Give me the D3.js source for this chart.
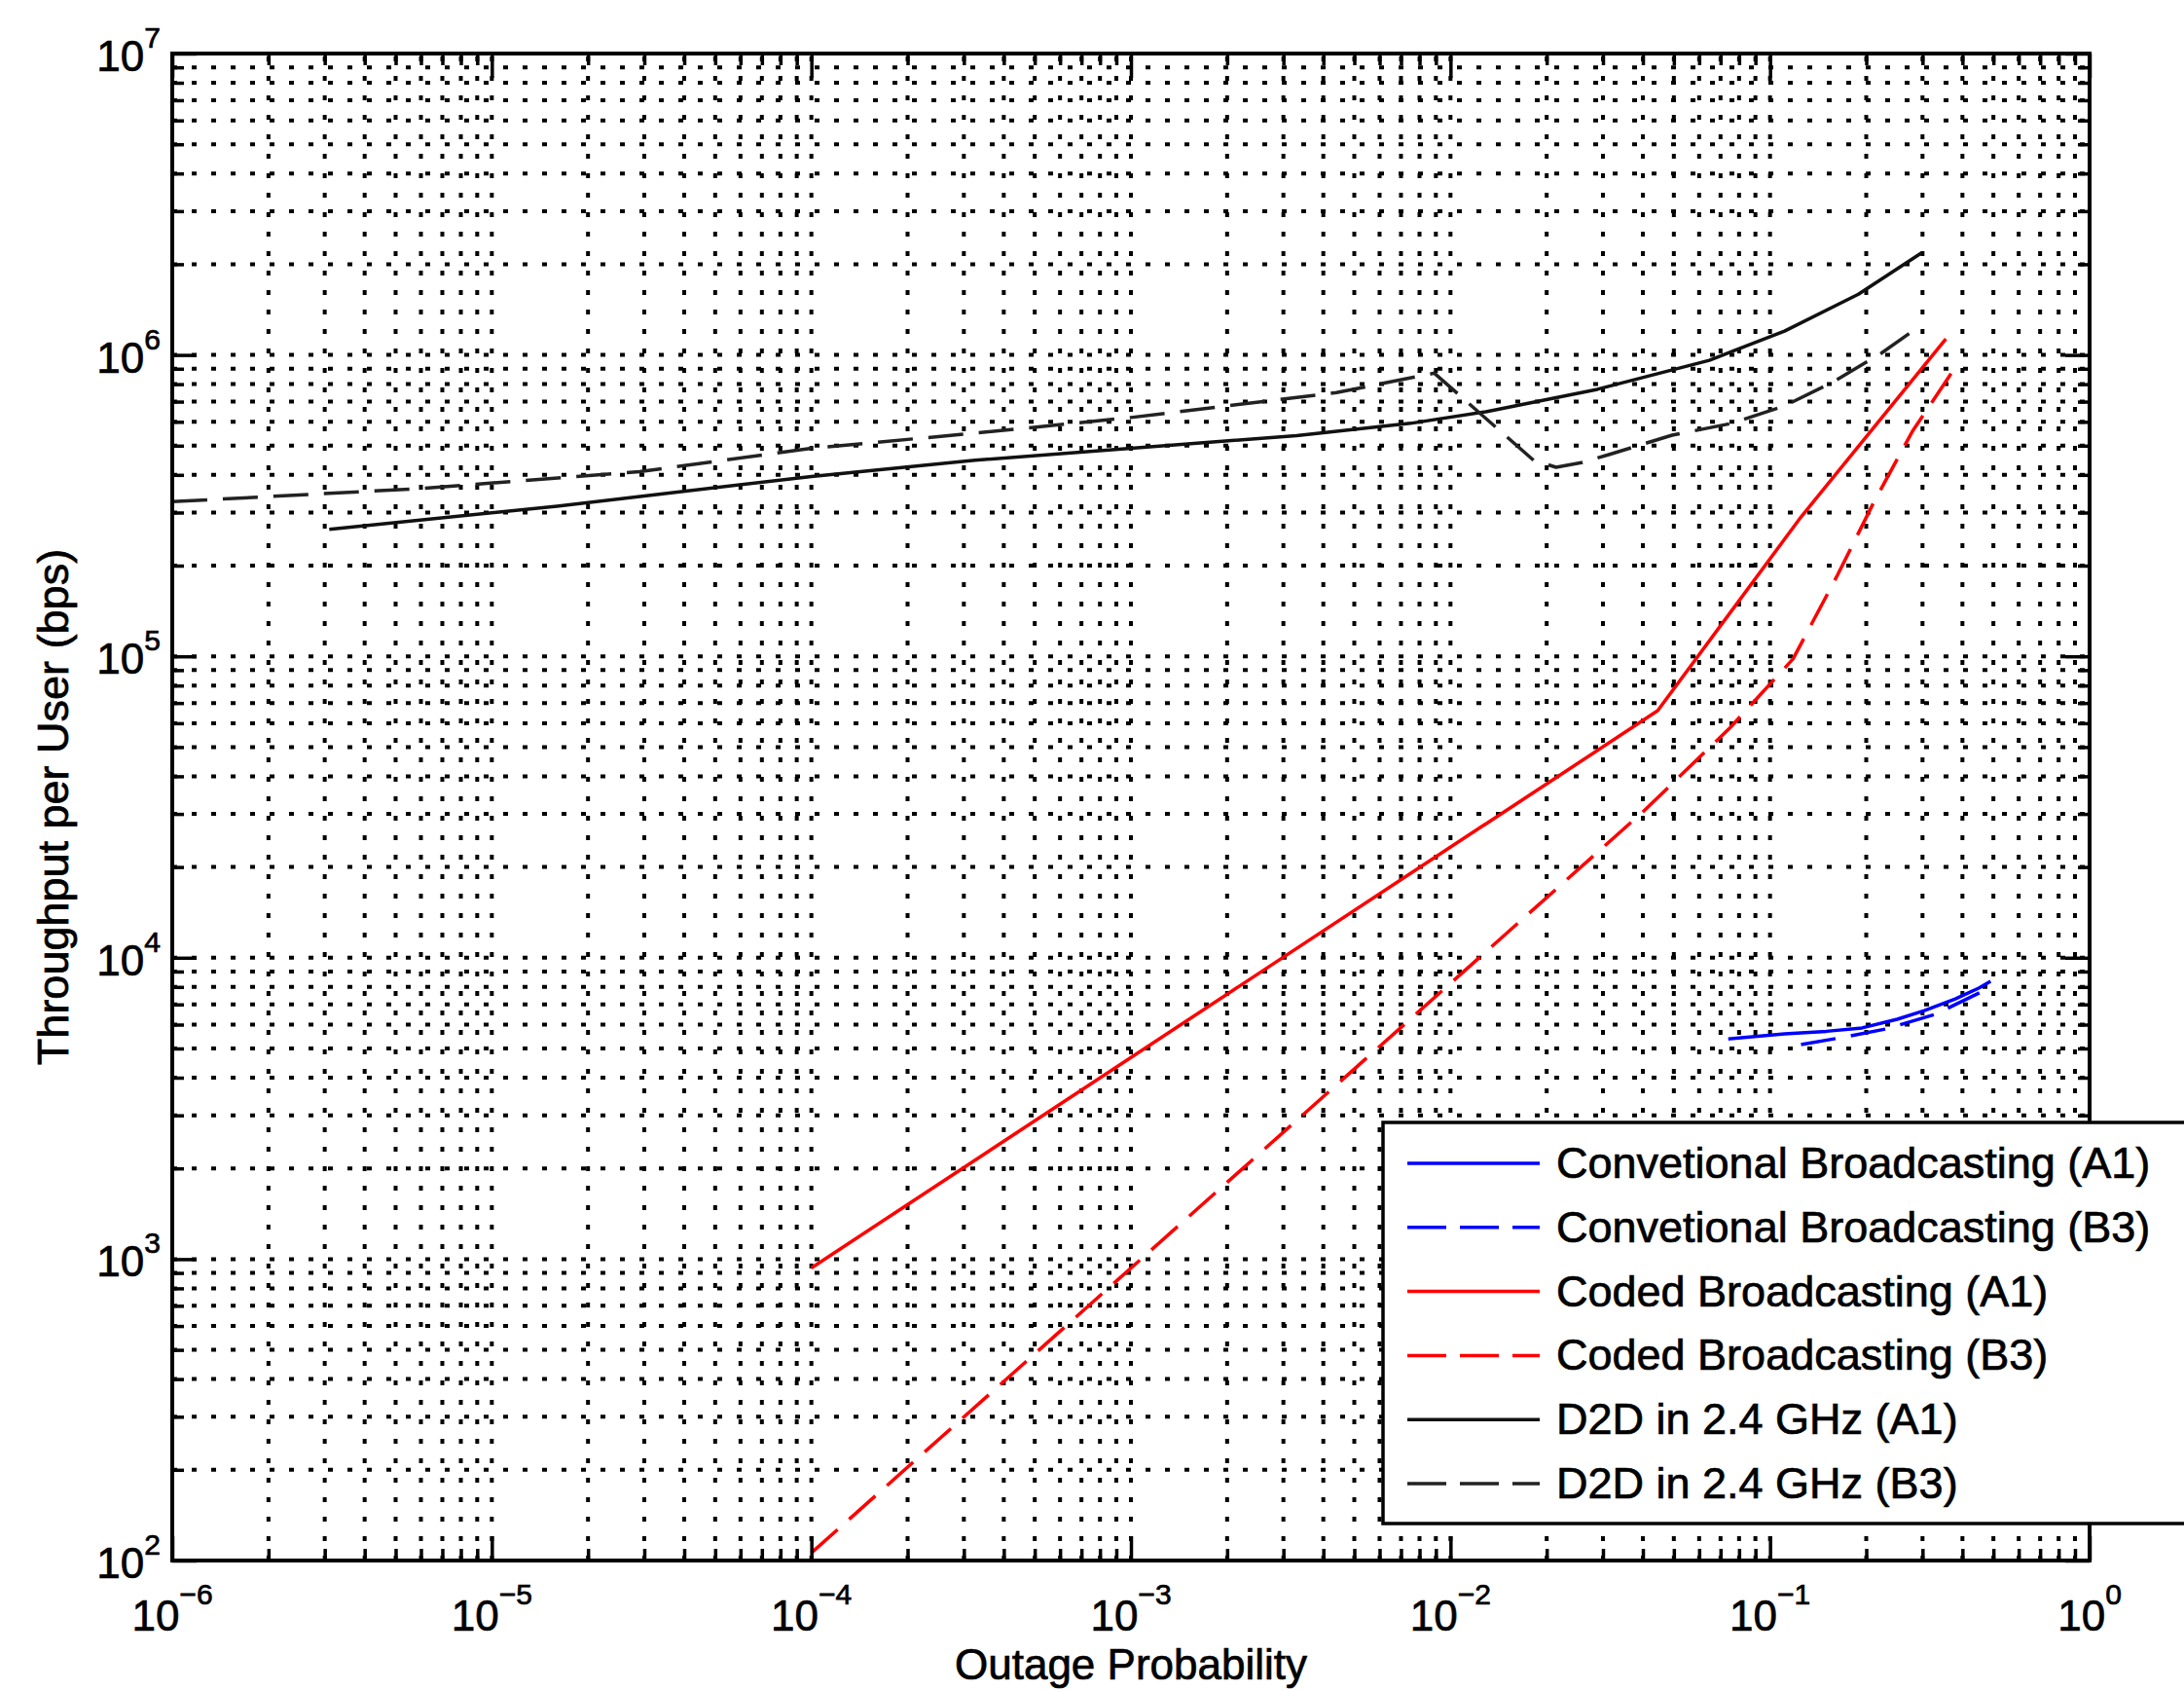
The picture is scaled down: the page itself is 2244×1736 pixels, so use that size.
<!DOCTYPE html>
<html>
<head>
<meta charset="utf-8">
<script src="https://cdn.jsdelivr.net/npm/d3@7"></script>
<style>
  html, body { margin: 0; padding: 0; background: #fff; }
  svg { display: block; }
  text { font-family: "Liberation Sans", Arial, Helvetica, sans-serif; fill: #000; stroke: #000; stroke-width: 0.7px; }
</style>
</head>
<body>
<svg id="chart" width="2244" height="1736"></svg>
<script>
// ---------------- data ----------------
const xTickExps = [-6, -5, -4, -3, -2, -1, 0];
const yTickExps = [2, 3, 4, 5, 6, 7];

const seriesNames = [
  "Convetional Broadcasting (A1)",
  "Convetional Broadcasting (B3)",
  "Coded Broadcasting (A1)",
  "Coded Broadcasting (B3)",
  "D2D in 2.4 GHz (A1)",
  "D2D in 2.4 GHz (B3)"
];
const seriesColors = ["#0000ff", "#0000ff", "#ff0000", "#ff0000", "#111111", "#222222"];
const seriesDashed = [false, true, false, true, false, true];

// [outage probability, throughput (bps)]
const convA1 = [[0.074, 5380], [0.111, 5590], [0.15, 5700], [0.194, 5850], [0.25, 6250],
                [0.304, 6680], [0.38, 7300], [0.45, 7930], [0.49, 8350]];
const convB3 = [[0.125, 5150], [0.17, 5450], [0.23, 5800], [0.33, 6500], [0.47, 7800]];
const codedA1 = [[1e-4, 935], [0.0445, 66000], [0.125, 290000], [0.355, 1130000]];
const codedB3 = [[1e-4, 106], [0.0403, 30700], [0.075, 58000], [0.118, 98000], [0.163, 187000],
                 [0.212, 327000], [0.279, 558000], [0.38, 910000]];
const d2dA1 = [[3.1e-6, 264000], [1.6e-5, 315000], [1e-4, 395000], [3.25e-4, 447000],
               [1e-3, 490000], [3.3e-3, 540000], [7.5e-3, 593000], [0.0129, 648000],
               [0.0288, 769000], [0.0646, 960000], [0.111, 1200000], [0.189, 1590000],
               [0.298, 2180000]];
const d2dB3 = [[1e-6, 326000], [5.9e-6, 360000], [2.9e-5, 410000], [1e-4, 490000],
               [3.25e-4, 550000], [1e-3, 620000], [4.4e-3, 750000], [8.9e-3, 870000],
               [0.0182, 447000], [0.0214, 424000], [0.0259, 440000], [0.0313, 467000],
               [0.0494, 542000], [0.0759, 593000], [0.111, 678000], [0.156, 809000],
               [0.222, 1010000], [0.289, 1230000]];
const seriesData = [convA1, convB3, codedA1, codedB3, d2dA1, d2dB3];

const xLabel = "Outage Probability";
const yLabel = "Throughput per User (bps)";

// ---------------- layout ----------------
const L = 177, R = 2147, T = 55, B = 1603;
const svg = d3.select("#chart");
const x = d3.scaleLog().domain([1e-6, 1]).range([L, R]);
const y = d3.scaleLog().domain([1e2, 1e7]).range([B, T]);

const xAll = x.ticks();
const yAll = y.ticks();
const isMajor = v => Math.abs(Math.log10(v) - Math.round(Math.log10(v))) < 1e-9;

// grid
const grid = svg.append("g").attr("stroke", "#000").attr("stroke-width", 4)
  .attr("stroke-dasharray", "5 15").attr("fill", "none");
grid.selectAll("line.gx").data(xAll.filter(v => x(v) > L + 1 && x(v) < R - 1)).enter()
  .append("line").attr("x1", d => x(d)).attr("x2", d => x(d)).attr("y1", B).attr("y2", T);
grid.selectAll("line.gy").data(yAll.filter(v => y(v) < B - 1 && y(v) > T + 1)).enter()
  .append("line").attr("y1", d => y(d)).attr("y2", d => y(d)).attr("x1", L).attr("x2", R);

// curves
const line = d3.line().x(d => x(d[0])).y(d => y(d[1]));
seriesData.forEach((data, i) => {
  svg.append("path").datum(data)
    .attr("d", line)
    .attr("fill", "none")
    .attr("stroke", seriesColors[i])
    .attr("stroke-width", 3.5)
    .attr("stroke-linejoin", "round")
    .attr("stroke-dasharray", seriesDashed[i] ? "36 16" : null);
});

// axes box ticks (inside, all four sides)
function tickAxis(axisFn, scale, vals, size, transform) {
  const g = svg.append("g").attr("transform", transform)
    .call(axisFn(scale).tickValues(vals).tickSize(size).tickFormat(""));
  g.select(".domain").remove();
  g.selectAll(".tick line").attr("stroke", "#000").attr("stroke-width", 3.5);
}
const xMaj = xAll.filter(isMajor), xMin = xAll.filter(v => !isMajor(v));
const yMaj = yAll.filter(isMajor), yMin = yAll.filter(v => !isMajor(v));
tickAxis(d3.axisBottom, x, xMaj, -25, `translate(0,${B})`);
tickAxis(d3.axisBottom, x, xMin, -12, `translate(0,${B})`);
tickAxis(d3.axisTop, x, xMaj, -25, `translate(0,${T})`);
tickAxis(d3.axisTop, x, xMin, -12, `translate(0,${T})`);
tickAxis(d3.axisLeft, y, yMaj, -25, `translate(${L},0)`);
tickAxis(d3.axisLeft, y, yMin, -12, `translate(${L},0)`);
tickAxis(d3.axisRight, y, yMaj, -25, `translate(${R},0)`);
tickAxis(d3.axisRight, y, yMin, -12, `translate(${R},0)`);

svg.append("rect").attr("x", L).attr("y", T).attr("width", R - L).attr("height", B - T)
  .attr("fill", "none").attr("stroke", "#000").attr("stroke-width", 4);

// tick labels
const fs = 44, sfs = 30;
xTickExps.forEach(e => {
  const t = svg.append("text").attr("x", x(Math.pow(10, e))).attr("y", 1675)
    .attr("text-anchor", "middle").attr("font-size", fs);
  t.append("tspan").text("10");
  t.append("tspan").attr("font-size", sfs).attr("dy", -27).text(e < 0 ? "\u2212" + (-e) : String(e));
});
yTickExps.forEach(e => {
  const t = svg.append("text").attr("x", 165).attr("y", y(Math.pow(10, e)) + 18)
    .attr("text-anchor", "end").attr("font-size", fs);
  t.append("tspan").text("10");
  t.append("tspan").attr("font-size", sfs).attr("dy", -24).text(String(e));
});

// axis titles
svg.append("text").attr("x", (L + R) / 2).attr("y", 1725).attr("text-anchor", "middle")
  .attr("font-size", fs).text(xLabel);
svg.append("text").attr("transform", `translate(70,${(T + B) / 2}) rotate(-90)`)
  .attr("text-anchor", "middle").attr("font-size", fs + 1).text(yLabel);

// legend
const lg = svg.append("g");
lg.append("rect").attr("x", 1421).attr("y", 1153).attr("width", 1000).attr("height", 412)
  .attr("fill", "#fff").attr("stroke", "#000").attr("stroke-width", 3.5);
seriesNames.forEach((name, i) => {
  const ry = 1195 + i * 65.8;
  lg.append("line").attr("x1", 1446).attr("x2", 1582).attr("y1", ry).attr("y2", ry)
    .attr("stroke", seriesColors[i]).attr("stroke-width", 3.5)
    .attr("stroke-dasharray", seriesDashed[i] ? "40 14" : null);
  lg.append("text").attr("x", 1599).attr("y", ry + 15).attr("font-size", 45).text(name);
});
</script>
</body>
</html>
